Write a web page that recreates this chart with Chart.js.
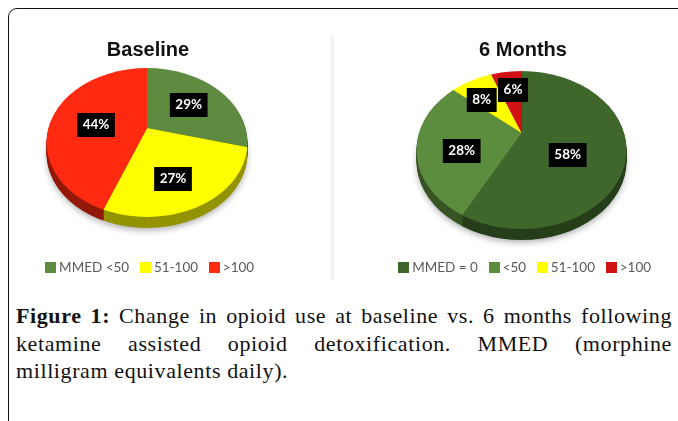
<!DOCTYPE html>
<html><head><meta charset="utf-8">
<style>
html,body{margin:0;padding:0;width:678px;height:421px;overflow:hidden;background:#fff}
#frame{position:absolute;left:8px;top:8px;width:800px;height:600px;border:1.5px solid #111;border-radius:9px;box-sizing:border-box}
#divider{position:absolute;left:331px;top:36px;width:3px;height:244px;background:#f0f0f0}
canvas{position:absolute;top:0;height:284px;filter:blur(.4px)}
#c1{left:0;width:296px}
#c2{left:371px;width:304px}
#cap{position:absolute;left:16px;top:302px;width:656px;font:22px/27.7px "Liberation Serif",serif;letter-spacing:.6px;color:#111}
#cap div{text-align:justify;text-align-last:justify;white-space:nowrap}
#cap div:last-child{text-align-last:left}
</style>
<script src="https://cdn.jsdelivr.net/npm/chart.js@4"></script>
</head><body>
<div id="frame"></div><div id="divider"></div>
<canvas id="c1" width="296" height="284"></canvas>
<canvas id="c2" width="304" height="284"></canvas>
<div id="cap"><div><b>Figure 1:</b> Change in opioid use at baseline vs. 6 months following</div><div>ketamine assisted opioid detoxification. MMED (morphine</div><div>milligram equivalents daily).</div></div>
<script>
const baselineCategories = ["MMED <50", "51-100", ">100"];
const baselineValues = [29, 27, 44];
const baselineColors = ["#5f8b40", "#ffff00", "#ff2a10"];
const monthsCategories = ["MMED = 0", "<50", "51-100", ">100"];
const monthsValues = [58, 28, 8, 6];
const monthsColors = ["#3f662b", "#5c8c3d", "#ffff00", "#d01212"];

function swatch(color) {
  const s = document.createElement('canvas');
  s.width = 11; s.height = 11;
  const g = s.getContext('2d');
  g.fillStyle = color; g.fillRect(0, 0, 11, 11);
  return s;
}

const pie3d = {
  id: 'pie3d',
  afterLayout(chart, args, o) {
    chart.legend.left += o.legendShift;
    chart.legend.right += o.legendShift;
  },
  beforeDatasetDraw(chart, args, o) {
    const ctx = chart.ctx, arcs = chart.getDatasetMeta(0).data;
    const left = chart.canvas.offsetLeft;
    const apply = (d) => {
      ctx.beginPath();
      ctx.ellipse(o.ex - left, o.ey + d, o.rx, o.ry, 0, 0, Math.PI * 2);
      ctx.clip();
      ctx.translate(o.ax - left, o.ay + d);
      ctx.scale(1, o.k);
      ctx.translate(-arcs[0].x, -arcs[0].y);
    };
    ctx.save();
    ctx.shadowColor = 'rgba(0,0,0,.35)'; ctx.shadowBlur = 7; ctx.shadowOffsetY = 3;
    ctx.fillStyle = '#777';
    ctx.beginPath();
    ctx.ellipse(o.ex - left, o.ey + o.depth, o.rx - 1, o.ry - 1, 0, 0, Math.PI * 2);
    ctx.fill();
    ctx.restore();
    for (let d = o.depth; d >= 1; d--) {
      ctx.save();
      apply(d);
      ctx.filter = 'brightness(' + o.shade + ')';
      arcs.forEach(a => a.draw(ctx));
      ctx.restore();
    }
    ctx.save();
    apply(0);
  },
  afterDatasetDraw(chart) { chart.ctx.restore(); },
  afterDraw(chart, args, o) {
    const ctx = chart.ctx, left = chart.canvas.offsetLeft;
    ctx.save();
    ctx.font = 'bold 13.5px Lato';
    ctx.textAlign = 'center'; ctx.textBaseline = 'middle';
    chart.data.datasets[0].data.forEach((v, i) => {
      const t = v + '%', x = o.ax - left + o.lx[i], y = o.ay + o.ly[i];
      const w = ctx.measureText(t).width + 11, h = 24;
      ctx.fillStyle = '#000';
      ctx.fillRect(x - w / 2, y - h / 2, w, h);
      ctx.fillStyle = '#fff';
      ctx.fillText(t, x, y);
    });
    ctx.restore();
  }
};

function pie(id, title, labels, values, colors, geo) {
  return new Chart(document.getElementById(id), {
    type: 'pie',
    plugins: [pie3d],
    data: { labels, datasets: [{ data: values, backgroundColor: colors, borderWidth: 0, clip: false }] },
    options: {
      responsive: false, animation: false, devicePixelRatio: 1,
      radius: 135,
      events: [],
      plugins: {
        tooltip: { enabled: false },
        title: { display: true, text: title, color: '#111', font: { family: 'Liberation Sans', size: 20, weight: 'bold' }, padding: { top: 38, bottom: 4 } },
        legend: {
          position: 'bottom',
          labels: {
            usePointStyle: true, pointStyleWidth: 3.5, boxHeight: 11, padding: 14.5,
            color: '#595959', font: { family: 'Lato', size: 13.5 },
            generateLabels(chart) {
              return Chart.overrides.pie.plugins.legend.labels.generateLabels(chart)
                .map((item, i) => Object.assign(item, { pointStyle: swatch(colors[i]) }));
            }
          }
        },
        pie3d: geo
      }
    }
  });
}
pie('c1', 'Baseline', baselineCategories, baselineValues, baselineColors,
  { ax: 147, ay: 128, ex: 147, ey: 142.5, rx: 100.5, ry: 74.5, k: 0.74, depth: 11, shade: 0.58, legendShift: 3.5,
    lx: [41.7, 26, -51], ly: [-23, 51, -3] });
pie('c2', '6 Months', monthsCategories, monthsValues, monthsColors,
  { ax: 521.7, ay: 133, ex: 521.5, ey: 150, rx: 105, ry: 79, k: 0.76, depth: 11, shade: 0.6, legendShift: 3.5,
    lx: [46, -60, -40, -8.7], ly: [22, 18, -33, -43] });
</script>
</body></html>
